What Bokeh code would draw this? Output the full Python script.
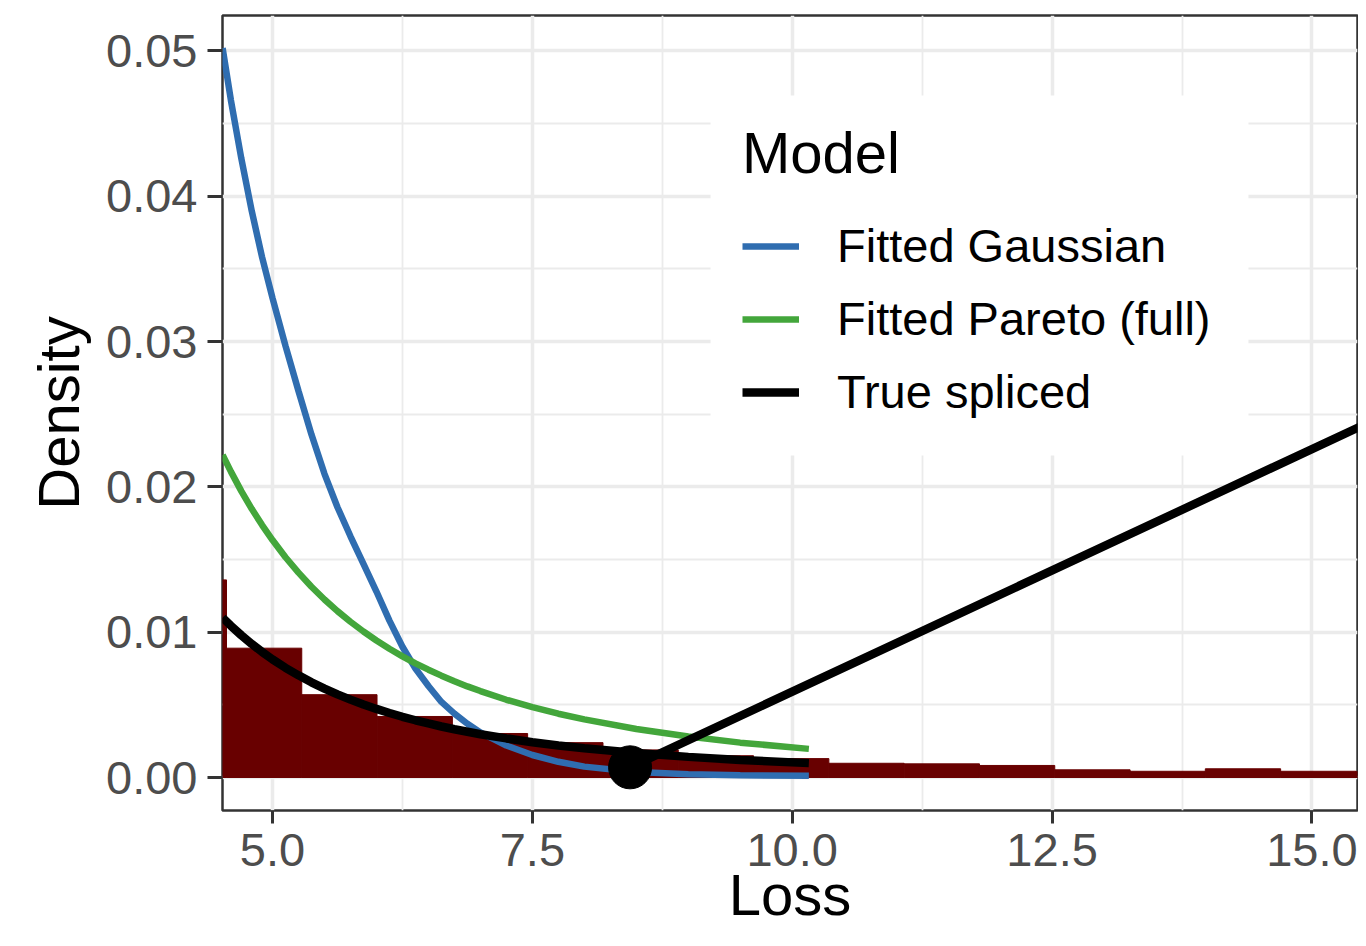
from bokeh.plotting import figure
from bokeh.models import Range1d, FixedTicker, Legend, LegendItem, BoxAnnotation
from bokeh.embed import file_html
from bokeh.resources import INLINE

# ---- data ----
bin_left = [3.833, 4.557, 5.281, 6.006, 6.730, 7.455, 8.179, 8.903, 9.628,
            10.352, 11.077, 11.801, 12.526, 13.250, 13.974, 14.699, 15.423]
bin_width = 0.7245
hist_density = [0.0136, 0.0089, 0.0057, 0.0042, 0.00303, 0.0024, 0.0019, 0.0015, 0.0013,
                0.00098, 0.00094, 0.00083, 0.00053, 0.00043, 0.0006, 0.00043, 0.0004]

curve_x = [4.52, 4.6, 4.7, 4.8, 4.9, 5.0, 5.125, 5.25, 5.375, 5.5, 5.625, 5.75, 5.875,
           6.0, 6.125, 6.25, 6.375, 6.5, 6.625, 6.75, 6.875, 7.0, 7.25, 7.5, 7.75,
           8.0, 8.5, 9.0, 9.5, 10.16]
gaussian_y = [0.0502, 0.0466, 0.0426, 0.0390, 0.0358, 0.0330, 0.0297, 0.0266, 0.0236,
              0.0209, 0.0186, 0.0166, 0.0147, 0.0128, 0.0108, 0.0090, 0.0075, 0.0063,
              0.0052, 0.0044, 0.0037, 0.0031, 0.0022, 0.00155, 0.00108, 0.00075,
              0.00038, 0.00022, 0.00015, 0.00012]
pareto_y = [0.0222, 0.02105, 0.01971, 0.01849, 0.01737, 0.01634, 0.01516, 0.01410,
            0.01313, 0.01225, 0.01145, 0.01072, 0.01005, 0.00943, 0.00886, 0.00834,
            0.00786, 0.00742, 0.00701, 0.00663, 0.00627, 0.00595, 0.00535, 0.00484,
            0.00439, 0.00400, 0.00334, 0.00282, 0.00240, 0.00197]
spliced_y = [0.0110, 0.01044, 0.00979, 0.00919, 0.00864, 0.00813, 0.00755, 0.00703,
             0.00655, 0.00612, 0.00572, 0.00536, 0.00502, 0.00472, 0.00444, 0.00418,
             0.00394, 0.00372, 0.00351, 0.00332, 0.00315, 0.00298, 0.00269, 0.00243,
             0.00220, 0.00201, 0.00168, 0.00142, 0.00121, 0.00099]

# stray annotation stroke and dot
stroke_x = [8.44, 15.6]
stroke_y = [0.0007, 0.0246]
dot_x = [8.44]
dot_y = [0.0007]

x_ticks = [5.0, 7.5, 10.0, 12.5, 15.0]
x_tick_labels = ["5.0", "7.5", "10.0", "12.5", "15.0"]
x_minor = [6.25, 8.75, 11.25, 13.75]
y_ticks = [0.0, 0.01, 0.02, 0.03, 0.04, 0.05]
y_tick_labels = ["0.00", "0.01", "0.02", "0.03", "0.04", "0.05"]
y_minor = [0.005, 0.015, 0.025, 0.035, 0.045]

FONT = "Liberation Sans"

p = figure(width=1358, height=930, output_backend="svg", toolbar_location=None,
           x_range=Range1d(4.519, 15.438), y_range=Range1d(-0.00227, 0.05244),
           min_border_left=222, min_border_right=1, min_border_top=15, min_border_bottom=120)
p.background_fill_color = "white"
p.border_fill_color = "white"
p.outline_line_color = "#333333"
p.outline_line_width = 2.5

# legend background panel (white key box that hides the grid)
p.add_layout(BoxAnnotation(left=9.214, right=14.389, bottom=0.02216, top=0.04694,
                           fill_color="white", fill_alpha=1.0, line_color=None,
                           level="underlay"))

# histogram
right = [b + bin_width for b in bin_left]
p.quad(left=bin_left, right=right, bottom=0, top=hist_density,
       fill_color="#680000", line_color="#680000", line_width=1)

r_g = p.line(curve_x, gaussian_y, line_color="#2f6db0", line_width=6.5)
r_p = p.line(curve_x, pareto_y, line_color="#43a63b", line_width=6.5)
r_s = p.line(curve_x, spliced_y, line_color="black", line_width=8.5)

p.line(stroke_x, stroke_y, line_color="black", line_width=8.5, line_cap="round")
p.scatter(dot_x, dot_y, size=43, fill_color="black", line_color="black")

# axes
p.xaxis.ticker = FixedTicker(ticks=x_ticks, minor_ticks=x_minor)
p.yaxis.ticker = FixedTicker(ticks=y_ticks, minor_ticks=y_minor)
p.xaxis.major_label_overrides = dict(zip(x_ticks, x_tick_labels))
p.yaxis.major_label_overrides = dict(zip(y_ticks, y_tick_labels))
for ax in (p.xaxis, p.yaxis):
    ax.axis_line_color = None
    ax.major_tick_line_color = "#333333"
    ax.major_tick_line_width = 3
    ax.major_tick_in = 0
    ax.minor_tick_line_color = None
    ax.major_label_text_font = FONT
    ax.major_label_text_font_size = "47px"
    ax.major_label_text_color = "#4D4D4D"
    ax.axis_label_text_font = FONT
    ax.axis_label_text_font_size = "58px"
    ax.axis_label_text_font_style = "normal"
    ax.axis_label_text_color = "black"
p.xaxis.major_tick_out = 13
p.yaxis.major_tick_out = 15
p.xaxis.major_label_standoff = 10
p.yaxis.major_label_standoff = 10

p.yaxis.axis_label = "Density"
p.yaxis.axis_label_standoff = 12
p.xaxis.axis_label = "Loss"
p.xaxis.axis_label_standoff = -7

for g in (p.xgrid, p.ygrid):
    g.grid_line_color = "#EBEBEB"
    g.grid_line_width = 3.5
    g.minor_grid_line_color = "#EBEBEB"
    g.minor_grid_line_width = 1.8

legend = Legend(items=[LegendItem(label="Fitted Gaussian", renderers=[r_g]),
                       LegendItem(label="Fitted Pareto (full)", renderers=[r_p]),
                       LegendItem(label="True spliced", renderers=[r_s])],
                location=(520, 391))
legend.title = "Model"
legend.title_text_font = FONT
legend.title_text_font_size = "58px"
legend.title_text_font_style = "normal"
legend.title_text_color = "black"
legend.title_standoff = 32
legend.label_text_font = FONT
legend.label_text_font_size = "47px"
legend.label_text_color = "black"
legend.glyph_width = 57
legend.glyph_height = 54
legend.label_standoff = 38
legend.spacing = 18
legend.padding = 34
legend.margin = 0
legend.background_fill_color = "white"
legend.background_fill_alpha = 1.0
legend.border_line_color = None
p.add_layout(legend)

open("out.html", "w").write(file_html(p, INLINE))
